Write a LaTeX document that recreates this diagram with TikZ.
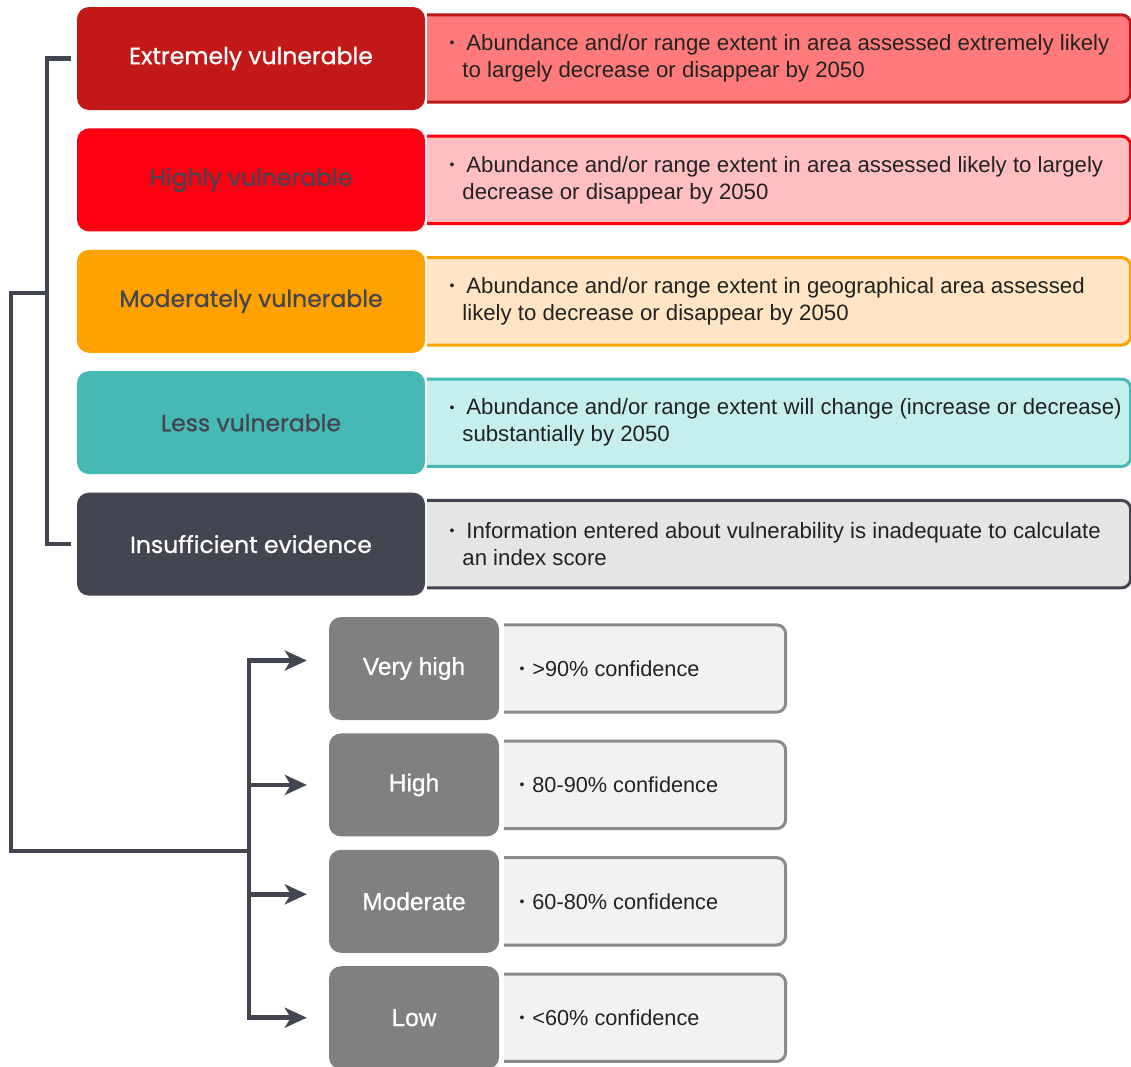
\documentclass[tikz,border=0pt]{standalone}
\usepackage{fontspec}
\setmainfont{Liberation Sans}
\newfontfamily\catfont{Poppins}[FakeBold=0.8]
\newfontfamily\conffont{Liberation Sans}[FakeBold=0.6]
\usetikzlibrary{positioning,arrows.meta}

\definecolor{linegray}{HTML}{434550}
\definecolor{extfill}{HTML}{C21818}
\definecolor{extdesc}{HTML}{FF7B7B}
\definecolor{extedge}{HTML}{BE1A1A}
\definecolor{highfill}{HTML}{FF0012}
\definecolor{highdesc}{HTML}{FFBFC1}
\definecolor{modfill}{HTML}{FFA200}
\definecolor{moddesc}{HTML}{FFE5C4}
\definecolor{lessfill}{HTML}{46B9B5}
\definecolor{lessdesc}{HTML}{C4EFEC}
\definecolor{insdesc}{HTML}{E5E5E5}
\definecolor{confgray}{HTML}{808080}
\definecolor{confdesc}{HTML}{F2F2F2}
\definecolor{confedge}{HTML}{8A8A8A}
\definecolor{bodytext}{HTML}{222222}

\newcommand{\bul}{\llap{\raisebox{0.25ex}{\fontsize{14}{14}\selectfont\textbullet}\hspace{8pt}}}

\begin{document}
\begin{tikzpicture}
    [x=1pt,y=-1pt,
cat/.style={rectangle,rounded corners=12pt,minimum width=348pt,minimum height=103pt,inner sep=0pt,font=\catfont\fontsize{23.5}{27}\selectfont},
desc/.style={minimum width=703pt,minimum height=87pt,inner sep=0pt},
conf/.style={rectangle,rounded corners=12pt,fill=confgray,text=white,minimum width=170pt,minimum height=103pt,inner sep=0pt,font=\conffont\fontsize{24.5}{28}\selectfont},
cdesc/.style={minimum width=281pt,minimum height=87pt,inner sep=0pt},
openbox/.style={rounded corners=9pt,line width=3pt},
desctext/.style={align=left,inner sep=0pt,text=bodytext,font=\fontsize{22.2}{27}\selectfont},
conftext/.style={align=left,inner sep=0pt,text=bodytext,font=\fontsize{21.7}{27}\selectfont},
link/.style={draw=linegray,line width=4.5pt},
arrow/.style={link,-{Stealth[length=22pt,width=20pt,inset=6pt]}}
]
\clip (0,0) rectangle (1131,1066);

% vulnerability classes
\node[cat,fill=extfill,text=white] (ext) at (251,58.5) {Extremely vulnerable};
\node[cat,fill=highfill,text=linegray,below=18pt of ext] (high) {Highly vulnerable};
\node[cat,fill=modfill,text=linegray,below=18pt of high] (mod) {Moderately vulnerable};
\node[cat,fill=lessfill,text=linegray,below=18pt of mod] (less) {Less vulnerable};
\node[cat,fill=linegray,text=white,below=18pt of less] (ins) {Insufficient evidence};

\node[desc,right=2pt of ext] (extd) {};
\path[openbox,fill=extdesc,draw=extedge] (extd.north west) -- (extd.north east) -- (extd.south east) -- (extd.south west);
\node[desctext,right=35pt of extd.west] (extt) {\bul\hspace{4pt}Abundance and/or range extent in area assessed extremely likely\\to largely decrease or disappear by 2050};

\node[desc,right=2pt of high] (highd) {};
\path[openbox,fill=highdesc,draw=highfill] (highd.north west) -- (highd.north east) -- (highd.south east) -- (highd.south west);
\node[desctext,right=35pt of highd.west] (hight) {\bul\hspace{4pt}Abundance and/or range extent in area assessed likely to largely\\decrease or disappear by 2050};

\node[desc,right=2pt of mod] (modd) {};
\path[openbox,fill=moddesc,draw=modfill] (modd.north west) -- (modd.north east) -- (modd.south east) -- (modd.south west);
\node[desctext,right=35pt of modd.west] (modt) {\bul\hspace{4pt}Abundance and/or range extent in geographical area assessed\\likely to decrease or disappear by 2050};

\node[desc,right=2pt of less] (lessd) {};
\path[openbox,fill=lessdesc,draw=lessfill] (lessd.north west) -- (lessd.north east) -- (lessd.south east) -- (lessd.south west);
\node[desctext,right=35pt of lessd.west] (lesst) {\bul\hspace{4pt}Abundance and/or range extent will change (increase or decrease)\\substantially by 2050};

\node[desc,right=2pt of ins] (insd) {};
\path[openbox,fill=insdesc,draw=linegray] (insd.north west) -- (insd.north east) -- (insd.south east) -- (insd.south west);
\node[desctext,right=35pt of insd.west] (inst) {\bul\hspace{4pt}Information entered about vulnerability is inadequate to calculate\\an index score};

% confidence levels
\node[conf] (vh) at (414,668.5) {Very high};
\node[conf,below=13pt of vh] (hi) {High};
\node[conf,below=13pt of hi] (md) {Moderate};
\node[conf,below=13pt of md] (lo) {Low};

\node[cdesc,right=5pt of vh] (vhd) {};
\path[openbox,fill=confdesc,draw=confedge] (vhd.north west) -- (vhd.north east) -- (vhd.south east) -- (vhd.south west);
\node[conftext,right=28pt of vhd.west] (vht) {\bul>90\% confidence};

\node[cdesc,right=5pt of hi] (hid) {};
\path[openbox,fill=confdesc,draw=confedge] (hid.north west) -- (hid.north east) -- (hid.south east) -- (hid.south west);
\node[conftext,right=28pt of hid.west] (hit) {\bul 80-90\% confidence};

\node[cdesc,right=5pt of md] (mdd) {};
\path[openbox,fill=confdesc,draw=confedge] (mdd.north west) -- (mdd.north east) -- (mdd.south east) -- (mdd.south west);
\node[conftext,right=28pt of mdd.west] (mdt) {\bul 60-80\% confidence};

\node[cdesc,right=5pt of lo] (lod) {};
\path[openbox,fill=confdesc,draw=confedge] (lod.north west) -- (lod.north east) -- (lod.south east) -- (lod.south west);
\node[conftext,right=28pt of lod.west] (lot) {\bul<60\% confidence};

% connectors
\draw[link] ([xshift=-6pt]ext.west) -- ++(-24,0) |- ([xshift=-6pt]ins.west);
\coordinate (join) at (47,293);
\coordinate (fork) at (249,851);
\draw[link] (join) -- ++(-36,0) |- (fork);
\draw[arrow] (fork) |- ([xshift=-22pt,yshift=8pt]vh.west);
\draw[arrow] (fork) |- ([xshift=-22pt]hi.west);
\draw[arrow] (fork) |- ([xshift=-22pt,yshift=7pt]md.west);
\draw[arrow] (fork) |- ([xshift=-22pt]lo.west);
\end{tikzpicture}
\end{document}
